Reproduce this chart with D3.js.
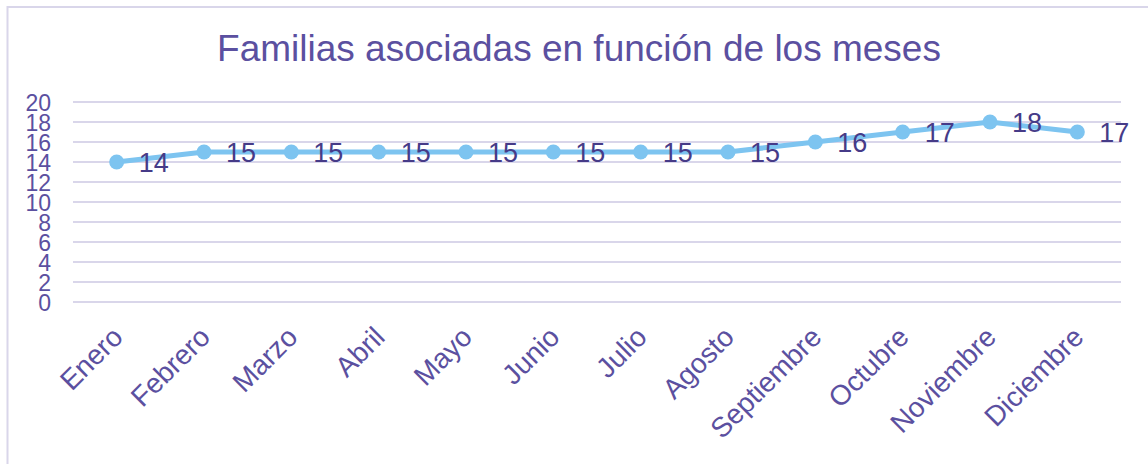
<!DOCTYPE html>
<html>
<head>
<meta charset="utf-8">
<script src="https://cdn.jsdelivr.net/npm/d3@7"></script>
<style>
  html, body { margin: 0; padding: 0; background: #fff; }
  svg { display: block; font-family: "Liberation Sans", Arial, sans-serif; }
</style>
</head>
<body>
<div id="chart"></div>
<script>
// data
var months = ['Enero', 'Febrero', 'Marzo', 'Abril', 'Mayo', 'Junio', 'Julio',
              'Agosto', 'Septiembre', 'Octubre', 'Noviembre', 'Diciembre'];
var familias = [14, 15, 15, 15, 15, 15, 15, 15, 16, 17, 18, 17];
var yTicks = [0, 2, 4, 6, 8, 10, 12, 14, 16, 18, 20];
var title = 'Familias asociadas en función de los meses';

var width = 1148, height = 464;
var margin = {top: 102, right: 27, bottom: 162, left: 73};

var textColor = '#5b50a0';
var labelColor = '#463b88';
var gridColor = '#d9d6ea';
var lineColor = '#7dc4f0';

var svg = d3.select('#chart').append('svg')
    .attr('width', width)
    .attr('height', height);

// outer frame, runs off the right and bottom edges
svg.append('rect')
    .attr('x', 7.5).attr('y', 7)
    .attr('width', width + 20).attr('height', height + 20)
    .attr('fill', 'none')
    .attr('stroke', gridColor)
    .attr('stroke-width', 2);

svg.append('text')
    .attr('x', 579).attr('y', 61)
    .attr('text-anchor', 'middle')
    .attr('fill', textColor)
    .style('font-size', '37px')
    .text(title);

var x = d3.scaleBand()
    .domain(months)
    .range([margin.left, width - margin.right]);

var y = d3.scaleLinear()
    .domain([0, 20])
    .range([height - margin.bottom, margin.top]);

// gridlines
svg.append('g')
  .selectAll('line')
  .data(yTicks)
  .enter().append('line')
    .attr('x1', margin.left)
    .attr('x2', width - margin.right)
    .attr('y1', d => y(d))
    .attr('y2', d => y(d))
    .attr('stroke', gridColor)
    .attr('stroke-width', 2);

// y axis labels (they overlap in the original too)
var yAxis = svg.append('g')
    .attr('transform', 'translate(' + 54 + ',0)')
    .call(d3.axisLeft(y).tickValues(yTicks).tickSize(0).tickPadding(3));
yAxis.select('.domain').remove();
yAxis.selectAll('text')
    .attr('fill', textColor)
    .attr('dy', '0.36em')
    .style('font-size', '23px')
    .style('font-family', '"Liberation Sans", Arial, sans-serif');

// x axis labels, rotated
var xAxis = svg.append('g')
    .attr('transform', 'translate(0,' + (height - margin.bottom + 20) + ')')
    .call(d3.axisBottom(x).tickSize(0).tickPadding(0));
xAxis.select('.domain').remove();
xAxis.selectAll('text')
    .attr('fill', textColor)
    .attr('text-anchor', 'end')
    .attr('dy', '0.9em')
    .attr('transform', 'translate(-10,-1) rotate(-45)')
    .style('font-size', '28px')
    .style('font-family', '"Liberation Sans", Arial, sans-serif');

var cx = d => x(d) + x.bandwidth() / 2;
var pts = months.map((m, i) => ({m: m, v: familias[i]}));

svg.append('path')
    .datum(pts)
    .attr('fill', 'none')
    .attr('stroke', lineColor)
    .attr('stroke-width', 5)
    .attr('stroke-linejoin', 'round')
    .attr('d', d3.line().x(d => cx(d.m)).y(d => y(d.v)));

svg.append('g')
  .selectAll('circle')
  .data(pts)
  .enter().append('circle')
    .attr('cx', d => cx(d.m))
    .attr('cy', d => y(d.v))
    .attr('r', 7.5)
    .attr('fill', lineColor);

svg.append('g')
  .selectAll('text')
  .data(pts)
  .enter().append('text')
    .attr('x', d => cx(d.m) + 22)
    .attr('y', d => y(d.v))
    .attr('dy', '0.36em')
    .attr('fill', labelColor)
    .style('font-size', '27px')
    .text(d => d.v);
</script>
</body>
</html>
